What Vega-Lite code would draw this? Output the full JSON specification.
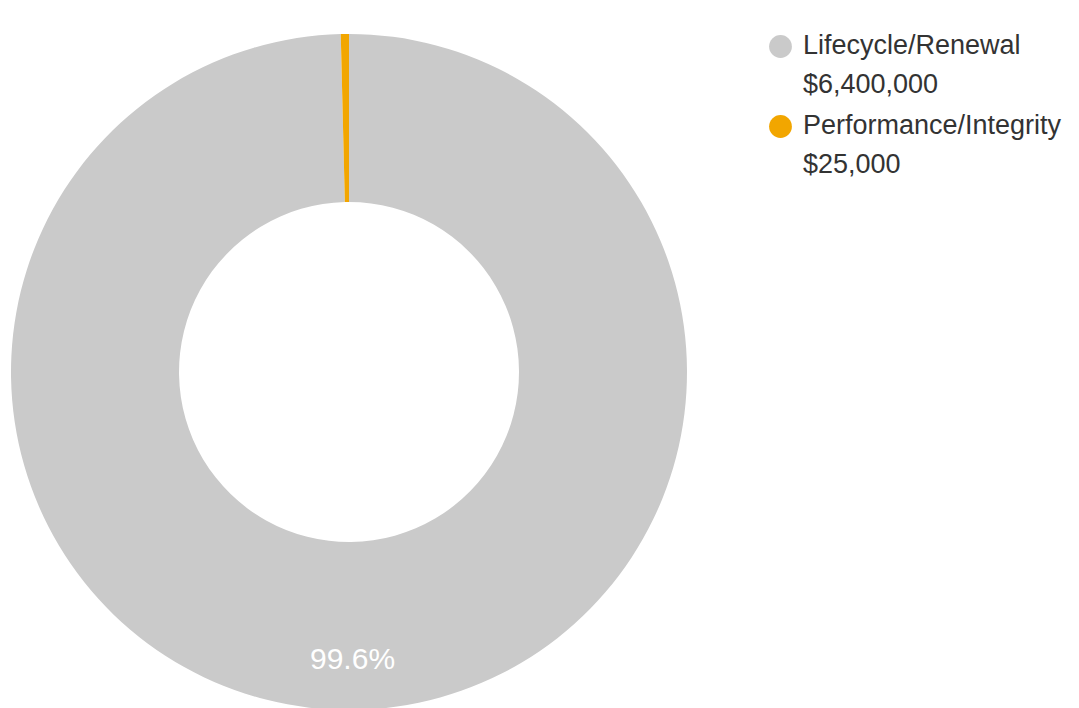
{
  "$schema": "https://vega.github.io/schema/vega-lite/v6.json",
  "autosize": "none",
  "width": 698,
  "height": 744,
  "padding": {"left": 0, "top": 0, "right": 381, "bottom": 0},
  "background": "white",
  "view": {"stroke": null},
  "data": {
    "values": [
      {"category": "Lifecycle/Renewal", "amount": 6400000, "order": 1},
      {"category": "Performance/Integrity", "amount": 25000, "order": 2}
    ]
  },
  "transform": [
    {"joinaggregate": [{"op": "sum", "field": "amount", "as": "total"}]},
    {"calculate": "datum.amount / datum.total", "as": "pct"},
    {"calculate": "datum.category + '|' + format(datum.amount, '$,')", "as": "legendLabel"}
  ],
  "encoding": {
    "theta": {"field": "amount", "type": "quantitative", "stack": true},
    "order": {"field": "order", "type": "quantitative"}
  },
  "layer": [
    {
      "mark": {"type": "arc", "innerRadius": 170, "outerRadius": 338},
      "encoding": {
        "color": {
          "field": "legendLabel",
          "type": "nominal",
          "sort": null,
          "scale": {"range": ["#cacaca", "#f2a600"]},
          "legend": {
            "title": null,
            "orient": "none",
            "legendX": 767,
            "legendY": 33,
            "symbolType": "circle",
            "symbolSize": 520,
            "symbolStrokeWidth": 0,
            "labelFont": "Liberation Sans",
            "labelFontSize": 27,
            "labelColor": "#333333",
            "labelOffset": 9,
            "labelBaseline": "top",
            "labelLimit": 400,
            "rowPadding": 13,
            "labelExpr": "split(datum.label, '|')",
            "encode": {
              "labels": {"update": {"lineHeight": {"value": 39}, "dy": {"value": -14}}}
            }
          }
        }
      }
    },
    {
      "mark": {"type": "text", "radius": 288, "font": "Liberation Sans", "fontSize": 30, "color": "white"},
      "encoding": {
        "text": {"field": "pct", "type": "quantitative", "format": ".1%"},
        "opacity": {"condition": {"test": "datum.pct < 0.05", "value": 0}, "value": 1}
      }
    }
  ]
}
